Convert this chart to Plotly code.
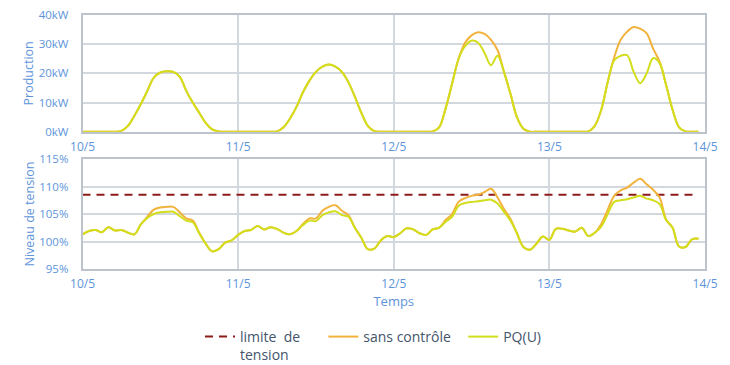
import plotly.graph_objects as go

# ---------------- data ----------------
hours = list(range(96))
day_ticks = [0, 24, 48, 72, 96]
day_labels = ["10/5", "11/5", "12/5", "13/5", "14/5"]

prod_sans_controle = [
    0, 0, 0, 0, 0, 0, 0.3, 2, 5.5, 9.5, 14, 18.5, 20.3, 20.7, 20.5, 18.8, 14, 10, 6.5, 3, 0.8, 0.1, 0, 0,
    0, 0, 0, 0, 0, 0, 0.1, 1.5, 4.5, 8.5, 13.5, 17.5, 20.5, 22.3, 23, 22.3, 20.5, 17, 12, 6.5, 2, 0.2, 0, 0,
    0, 0, 0, 0, 0, 0, 0.1, 1.5, 8, 16.5, 25, 30.5, 33, 34.1, 33.5, 31.5, 28, 20.5, 13, 5, 1, 0, 0, 0,
    0, 0, 0, 0, 0, 0, 0.1, 2, 7.5, 17, 25.5, 31.5, 34.3, 35.9, 35.3, 33.7, 28.5, 24, 16, 7.5, 1.5, 0.1, 0, 0,
]
prod_pq = [
    0, 0, 0, 0, 0, 0, 0.3, 2, 5.5, 9.5, 14, 18.5, 20.3, 20.7, 20.5, 18.8, 14, 10, 6.5, 3, 0.8, 0.1, 0, 0,
    0, 0, 0, 0, 0, 0, 0.1, 1.5, 4.5, 8.5, 13.5, 17.5, 20.5, 22.3, 23, 22.3, 20.5, 17, 12, 6.5, 2, 0.2, 0, 0,
    0, 0, 0, 0, 0, 0, 0.1, 1.5, 8, 16.5, 25, 29.3, 31.2, 30.5, 27, 22.8, 26, 20.5, 13, 5, 1, 0, 0, 0,
    0, 0, 0, 0, 0, 0, 0.1, 2, 7.5, 17, 24.5, 26, 26.2, 20.5, 16.6, 20, 25.2, 23.5, 16, 7.5, 1.5, 0.1, 0, 0,
]

volt_sans_controle = [
    101.3, 101.9, 102.1, 101.7, 102.6, 102.0, 102.1, 101.6, 101.3, 103.1, 104.5, 105.8, 106.2, 106.3, 106.3, 105.3,
    104.2, 103.8, 101.6, 99.6, 98.2, 98.6, 99.8, 100.2,
    101.2, 101.9, 102.1, 102.8, 102.2, 102.6, 102.3, 101.6, 101.3, 101.9, 103.2, 104.2, 104.2, 105.6, 106.3, 106.6,
    105.6, 104.8, 102.5, 100.7, 98.6, 98.7, 100.2, 101.0,
    100.8, 101.5, 102.4, 102.2, 101.5, 101.2, 102.2, 102.5, 103.9, 105.0, 107.2, 107.9, 108.3, 108.5, 109.0, 109.6,
    108.0, 105.9, 104.1, 101.5, 99.0, 98.5, 99.6, 100.9,
    100.3, 102.3, 102.3, 102.0, 101.8, 102.5, 101.0, 101.6, 103.2, 105.8, 108.3, 109.3, 109.8, 110.7, 111.4, 110.4,
    109.4, 108.0, 104.0, 102.5, 99.1, 99.0, 100.4, 100.5,
]
volt_pq = [
    101.3, 101.9, 102.1, 101.7, 102.6, 102.0, 102.1, 101.6, 101.3, 103.1, 104.3, 105.0, 105.3, 105.4, 105.4, 104.6,
    103.8, 103.5, 101.5, 99.6, 98.2, 98.6, 99.8, 100.2,
    101.2, 101.9, 102.1, 102.8, 102.2, 102.6, 102.3, 101.6, 101.3, 101.9, 103.0, 103.8, 103.7, 104.8, 105.3, 105.5,
    104.8, 104.5, 102.5, 100.7, 98.6, 98.7, 100.2, 101.0,
    100.8, 101.5, 102.4, 102.2, 101.5, 101.2, 102.2, 102.5, 103.6, 104.5, 106.5, 107.0, 107.2, 107.3, 107.5, 107.6,
    106.9, 105.4, 103.8, 101.5, 99.0, 98.5, 99.6, 100.9,
    100.3, 102.3, 102.3, 102.0, 101.8, 102.5, 101.0, 101.6, 102.7, 105.0, 107.2, 107.5, 107.7, 108.0, 108.3, 107.8,
    107.5, 106.8, 103.9, 102.5, 99.1, 99.0, 100.4, 100.5,
]
limite_tension = 108.5

prod_ticks = [0, 10, 20, 30, 40]
prod_tick_labels = ["0kW", "10kW", "20kW", "30kW", "40kW"]
volt_ticks = [95, 100, 105, 110, 115]
volt_tick_labels = ["95%", "100%", "105%", "110%", "115%"]

# ---------------- styling ----------------
W, H = 730, 365
OFF = 8  # page body margin
C_SC = "#F2B33D"
C_PQ = "#D2DE1C"
C_LIM = "#8E1B1B"
C_TICK = "#5E94DA"
C_GRID = "#D3D8DF"
C_AXIS = "#BCC3CD"
FONT = "Open Sans"
NB = "\u00a0"


def px_x(x):
    return (x - OFF) / W


def px_y(y):
    return 1 - (y - OFF) / H


fig = go.Figure()

fig.add_trace(go.Scatter(x=hours, y=prod_sans_controle, mode="lines", line=dict(color=C_SC, width=2, shape="spline"),
                         showlegend=False, xaxis="x", yaxis="y"))
fig.add_trace(go.Scatter(x=hours, y=prod_pq, mode="lines", line=dict(color=C_PQ, width=2, shape="spline"),
                         showlegend=False, xaxis="x", yaxis="y"))

fig.add_trace(go.Scatter(x=[hours[0], hours[-1]], y=[limite_tension, limite_tension], mode="lines",
                         name="limite  de" + NB * 5 + "<br>tension", line=dict(color=C_LIM, width=2, dash="8px,6px"),
                         xaxis="x2", yaxis="y2"))
fig.add_trace(go.Scatter(x=hours, y=volt_sans_controle, mode="lines", name="sans contrôle" + NB * 2,
                         line=dict(color=C_SC, width=2, shape="spline"), xaxis="x2", yaxis="y2"))
fig.add_trace(go.Scatter(x=hours, y=volt_pq, mode="lines", name="PQ(U)",
                         line=dict(color=C_PQ, width=2, shape="spline"), xaxis="x2", yaxis="y2"))

xdom = [px_x(82.5), px_x(705)]
common_x = dict(range=[0, 96], tickmode="array", tickvals=day_ticks, ticktext=day_labels,
                showgrid=True, gridcolor=C_GRID, gridwidth=1.5,
                showline=True, linecolor=C_AXIS, linewidth=1.5, mirror=True, zeroline=False, ticks="",
                ticklabelstandoff=3, ticklabeloverflow="allow",
                tickfont=dict(color=C_TICK, size=12, family=FONT), domain=xdom, fixedrange=True, automargin=False)
common_y = dict(showgrid=True, gridcolor=C_GRID, gridwidth=1.5, showline=True, linecolor=C_AXIS, linewidth=1.5,
                mirror=True, zeroline=False, tickmode="array", ticks="", ticklabelstandoff=10,
                ticklabeloverflow="allow",
                tickfont=dict(color=C_TICK, size=11.5, family=FONT), automargin=False)

fig.update_layout(
    width=W, height=H,
    margin=dict(l=0, r=0, t=0, b=0, autoexpand=False),
    paper_bgcolor="white", plot_bgcolor="white",
    font=dict(family=FONT, color=C_TICK),
    xaxis=dict(**common_x, anchor="y"),
    yaxis=dict(**common_y, domain=[px_y(131.7), px_y(15)], range=[0, 40], tickvals=prod_ticks,
               ticktext=prod_tick_labels,
               title=dict(text="Production", font=dict(color=C_TICK, size=12.5, family=FONT), standoff=2),
               anchor="x"),
    xaxis2=dict(**common_x, anchor="y2",
                title=dict(text="Temps", font=dict(color=C_TICK, size=13, family=FONT), standoff=6)),
    yaxis2=dict(**common_y, domain=[px_y(269), px_y(159)], range=[95, 115], tickvals=volt_ticks,
                ticktext=volt_tick_labels,
                title=dict(text="Niveau de tension", font=dict(color=C_TICK, size=12.5, family=FONT), standoff=2),
                anchor="x2"),
    legend=dict(orientation="h", x=px_x(200), y=px_y(321), xanchor="left", yanchor="top",
                font=dict(color="#44546A", size=14, family=FONT), valign="top",
                itemwidth=30, tracegroupgap=0, bgcolor="rgba(0,0,0,0)"),
    showlegend=True,
)

fig.write_html("out.html")
